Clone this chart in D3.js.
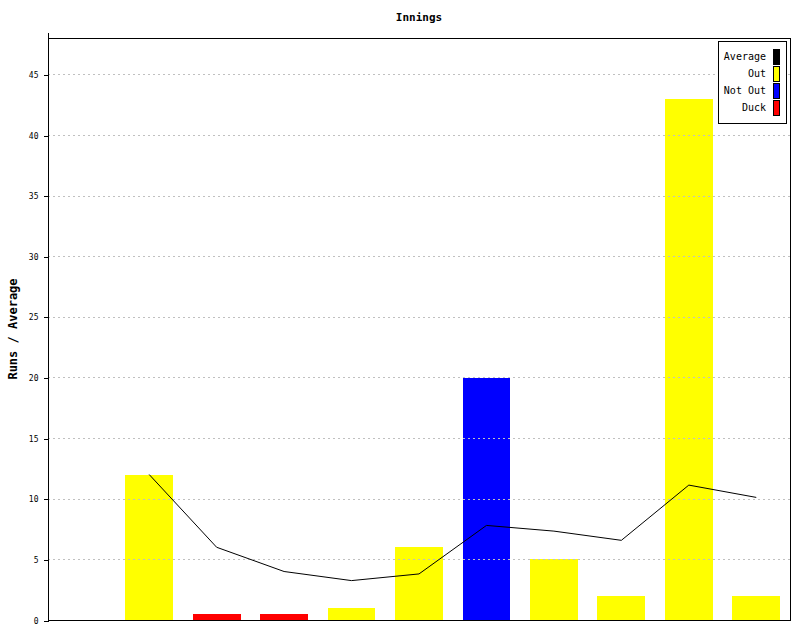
<!DOCTYPE html>
<html>
<head>
<meta charset="utf-8">
<script src="https://cdn.jsdelivr.net/npm/d3@7"></script>
<style>
  html, body { margin: 0; padding: 0; background: #fff; }
  svg { display: block; }
</style>
</head>
<body>
<svg id="chart" width="800" height="640"></svg>
<script>
// ---- data ----
const innings = [1, 2, 3, 4, 5, 6, 7, 8, 9, 10, 11];
const runs = [null, 12, 0.5, 0.5, 1, 6, 20, 5, 2, 43, 2];
const status = ["", "Out", "Duck", "Duck", "Out", "Out", "Not Out", "Out", "Out", "Out", "Out"];
const average = [null, 12, 6, 4, 3.25, 3.8, 7.8, 7.33, 6.57, 11.125, 10.11];
const yTicks = [0, 5, 10, 15, 20, 25, 30, 35, 40, 45];
const legendLabels = ["Average", "Out", "Not Out", "Duck"];
const legendColors = ["#000000", "#ffff00", "#0000ff", "#ff0000"];

const colorOf = d3.scaleOrdinal().domain(legendLabels).range(legendColors);

const svg = d3.select("#chart");
const L = 48, R = 790, T = 38, B = 620;

const x = d3.scaleBand().domain(innings).range([L, R]).paddingInner(0.29).paddingOuter(0.145);
const y = d3.scaleLinear().domain([0, 48]).range([B, T]);

// title
svg.append("text").attr("x", (L + R) / 2).attr("y", 21)
  .attr("text-anchor", "middle")
  .style("font-family", "'DejaVu Sans Mono', monospace").style("font-weight", "bold")
  .style("font-size", "11px").text("Innings");

// y label
svg.append("text").attr("transform", `translate(17,${(T + B) / 2}) rotate(-90)`)
  .attr("text-anchor", "middle")
  .style("font-family", "'DejaVu Sans Mono', monospace").style("font-weight", "bold")
  .style("font-size", "12px").text("Runs / Average");

// bars
const rows = innings.map((d, i) => ({ k: d, v: runs[i], s: status[i] })).filter(r => r.v != null);
svg.append("g").selectAll("rect").data(rows).join("rect")
  .attr("x", d => x(d.k)).attr("width", x.bandwidth())
  .attr("y", d => y(d.v)).attr("height", d => y(0) - y(d.v))
  .attr("fill", d => colorOf(d.s))
  .attr("shape-rendering", "crispEdges");

// grid (drawn over bars)
svg.append("g").selectAll("line").data(yTicks.filter(t => t > 0)).join("line")
  .attr("x1", L).attr("x2", R)
  .attr("y1", d => Math.round(y(d)) + 0.5).attr("y2", d => Math.round(y(d)) + 0.5)
  .attr("stroke", "#c0c0c0").attr("stroke-dasharray", "2,3");

// average line
const pts = innings.map((d, i) => ({ k: d, v: average[i] })).filter(p => p.v != null);
svg.append("path").datum(pts)
  .attr("d", d3.line().x(d => x(d.k) + x.bandwidth() / 2).y(d => y(d.v)))
  .attr("fill", "none").attr("stroke", "#000").attr("stroke-width", 1);

// frame
svg.append("rect").attr("x", L + 0.5).attr("y", T + 0.5)
  .attr("width", R - L).attr("height", B - T)
  .attr("fill", "none").attr("stroke", "#000").attr("shape-rendering", "crispEdges");
svg.append("line").attr("x1", L + 0.5).attr("x2", L + 0.5).attr("y1", 33).attr("y2", B)
  .attr("stroke", "#000").attr("shape-rendering", "crispEdges");

// y axis
const ax = svg.append("g").attr("transform", `translate(${L + 0.5},0.5)`)
  .call(d3.axisLeft(y).tickValues(yTicks).tickSize(5).tickPadding(5).tickSizeOuter(0));
ax.select(".domain").remove();
ax.selectAll("line").attr("stroke", "#000").attr("shape-rendering", "crispEdges");
ax.selectAll("text").attr("fill", "#000")
  .style("font-family", "'DejaVu Sans Mono', monospace").style("font-size", "8px");

// legend
const lg = svg.append("g");
lg.append("rect").attr("x", 718.5).attr("y", 41.5).attr("width", 68).attr("height", 82)
  .attr("fill", "#fff").attr("stroke", "#000").attr("shape-rendering", "crispEdges");
const it = lg.selectAll("g.it").data(legendLabels).join("g").attr("class", "it")
  .attr("transform", (d, i) => `translate(0,${i * 17})`);
it.append("text").attr("x", 766).attr("y", 60).attr("text-anchor", "end")
  .style("font-family", "'DejaVu Sans Mono', monospace").style("font-size", "10px").text(d => d);
it.append("rect").attr("x", 773.5).attr("y", 49.5).attr("width", 6).attr("height", 15)
  .attr("fill", d => colorOf(d)).attr("stroke", "#000").attr("shape-rendering", "crispEdges");
</script>
</body>
</html>
